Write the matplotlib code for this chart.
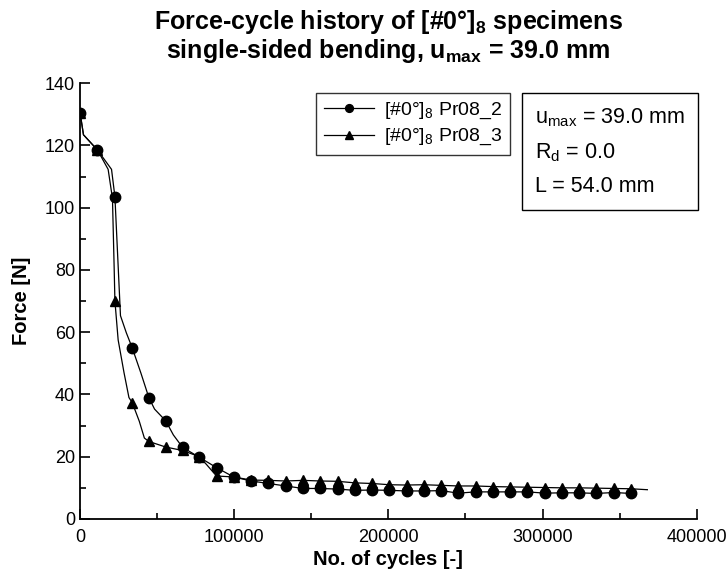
import matplotlib
matplotlib.use("Agg")
import matplotlib.pyplot as plt
from matplotlib.ticker import MultipleLocator

plt.rcParams['font.family'] = ['Liberation Sans', 'DejaVu Sans']
plt.rcParams['mathtext.fontset'] = 'custom'
plt.rcParams['mathtext.rm'] = 'Liberation Sans'
plt.rcParams['mathtext.it'] = 'Liberation Sans'
plt.rcParams['mathtext.bf'] = 'Liberation Sans:bold'

# Pr08_2 (circles): line points, markers on a subset
cyc_2 = [0, 2200, 11300, 20400, 22600, 26200, 30000, 33800, 39500, 44600,
         48300, 55600, 60500, 66500, 77400, 88500, 99600, 111000, 122200,
         133400, 144600, 155800, 167000, 178200, 189400, 200600, 211800,
         223000, 234200, 245400, 256600, 267800, 279000, 290200, 301400,
         312600, 323800, 335000, 346200, 357400]
force_2 = [130.5, 123.4, 118.5, 112.3, 103.5, 65.3, 59.8, 55.0, 46.8, 39.0,
           35.3, 31.5, 27.0, 23.0, 19.8, 16.5, 13.5, 12.2, 11.4,
           10.6, 9.8, 9.8, 9.6, 9.2, 9.3, 9.2, 9.0,
           9.0, 9.1, 8.3, 8.7, 8.7, 8.7, 8.7, 8.3,
           8.4, 8.4, 8.2, 8.5, 8.2]
marks_2 = [0, 2, 4, 7, 9, 11, 13, 14, 15, 16, 17, 18, 19, 20, 21, 22, 23, 24,
           25, 26, 27, 28, 29, 30, 31, 32, 33, 34, 35, 36, 37, 38, 39]

# Pr08_3 (triangles)
cyc_3 = [0, 2200, 11300, 18200, 21000, 22100, 22600, 24700, 28500, 31700,
         33800, 38400, 41700, 44600, 55600, 66500, 77400, 82000, 88500, 99600,
         111000, 122200, 133400, 144600, 155800, 167000, 178200, 189400,
         200600, 211800, 223000, 234200, 245400, 256600, 267800, 279000,
         290200, 301400, 312600, 323800, 335000, 346200, 357400, 368000]
force_3 = [130.5, 123.4, 118.5, 112.3, 103.0, 80.8, 70.0, 57.5, 47.0, 39.0,
           37.4, 31.4, 26.0, 24.9, 23.1, 22.0, 20.0, 17.5, 13.8, 13.5,
           12.5, 12.4, 12.2, 12.4, 12.2, 12.1, 11.6, 11.4,
           11.0, 10.9, 11.0, 10.8, 10.6, 10.6, 10.4, 10.3,
           10.2, 10.1, 10.0, 10.0, 9.9, 9.8, 9.7, 9.4]
marks_3 = [0, 2, 6, 10, 13, 14, 15, 16, 18, 19, 20, 21, 22, 23, 24, 25, 26,
           27, 28, 29, 30, 31, 32, 33, 34, 35, 36, 37, 38, 39, 40, 41, 42]

labels = [r'[#0°]$_{8}$ Pr08_2', r'[#0°]$_{8}$ Pr08_3']
info_lines = [r'u$_{\mathrm{max}}$ = 39.0 mm', r'R$_{\mathrm{d}}$ = 0.0', 'L = 54.0 mm']

fig = plt.figure(figsize=(7.28, 5.72), dpi=100)
ax = fig.add_axes([0.11, 0.0927, 0.847, 0.762])

ax.plot(cyc_2, force_2, color='black', lw=0.9, marker='o', ms=7.5,
        markevery=marks_2, label=labels[0])
ax.plot(cyc_3, force_3, color='black', lw=0.9, marker='^', ms=6.8,
        markevery=marks_3, label=labels[1])

ax.set_xlim(0, 400000)
ax.set_ylim(0, 140)
ax.xaxis.set_major_locator(MultipleLocator(100000))
ax.xaxis.set_minor_locator(MultipleLocator(50000))
ax.yaxis.set_major_locator(MultipleLocator(20))
ax.yaxis.set_minor_locator(MultipleLocator(10))
ax.tick_params(which='both', direction='in', labelsize=13, width=1.2)
ax.tick_params(which='major', length=7)
ax.tick_params(which='minor', length=4)
ax.tick_params(axis='x', pad=7)
for s in ['top', 'right']:
    ax.spines[s].set_visible(False)
for s in ['left', 'bottom']:
    ax.spines[s].set_linewidth(1.3)

ax.set_xlabel('No. of cycles [-]', fontsize=14.5, fontweight='bold', labelpad=3)
ax.set_ylabel('Force [N]', fontsize=14.5, fontweight='bold', labelpad=10)
ax.set_title('Force-cycle history of [#0°]$_{\\mathbf{8}}$ specimens\n'
             'single-sided bending, u$_{\\mathbf{max}}$ = 39.0 mm',
             fontsize=18, fontweight='bold', pad=18, linespacing=1.05)

leg = ax.legend(loc='upper left', bbox_to_anchor=(0.3825, 0.977), fontsize=14,
                frameon=True, fancybox=False, edgecolor='black', borderaxespad=0,
                handlelength=2.6, borderpad=0.4, labelspacing=0.3,
                markerscale=0.75, handletextpad=0.5)
leg.get_frame().set_linewidth(1.0)

ax.text(0.7374, 0.947, '\n'.join(info_lines), transform=ax.transAxes,
        fontsize=15.5, va='top', ha='left', linespacing=1.75,
        bbox=dict(boxstyle='square,pad=0.6', fc='white', ec='black', lw=1.0))

fig.savefig('out.png', dpi=100)
